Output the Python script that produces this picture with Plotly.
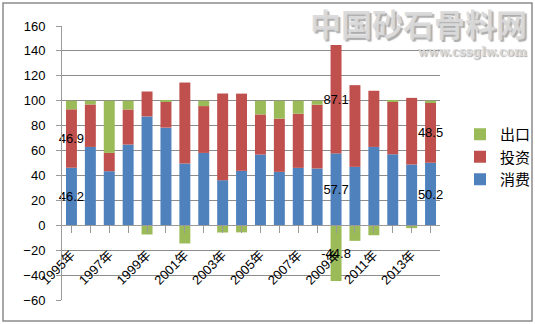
import plotly.graph_objects as go

# Contribution of the three demand components to GDP growth (%)
years = [f"{y}年" for y in range(1995, 2015)]
consumption = [46.2, 62.9, 43.4, 64.8, 87.4, 78.4, 49.6, 58.1, 36.2, 43.7,
               56.8, 42.9, 46.1, 45.6, 57.7, 46.9, 62.9, 57.0, 48.8, 50.2]
investment = [46.9, 34.1, 14.7, 28.2, 20.0, 21.1, 65.0, 37.6, 69.6, 62.0,
              32.2, 42.7, 43.5, 51.2, 87.1, 65.6, 45.1, 42.0, 53.5, 48.5]
net_export = [6.9, 3.0, 41.9, 7.0, -7.4, 0.5, -14.6, 4.3, -5.8, -5.7,
              11.0, 14.4, 10.4, 3.2, -44.8, -12.5, -8.0, 1.0, -2.3, 1.3]

# years whose values are printed on each series
labelled = {
    "消费": {"1995年", "2009年", "2014年"},
    "投资": {"1995年", "2009年", "2014年"},
    "出口": {"2009年"},
}
tick_labels = [y if i % 2 == 0 else "" for i, y in enumerate(years)]

BLUE, RED, GREEN = "#4F81BD", "#C0504D", "#9BBB59"
FONT = "Liberation Sans, Arial, Noto Sans CJK SC"


def bar_text(name, vals):
    return [f"{v:.1f}" if y in labelled[name] else "" for y, v in zip(years, vals)]


fig = go.Figure()
for name, vals, color in [("消费", consumption, BLUE),
                          ("投资", investment, RED),
                          ("出口", net_export, GREEN)]:
    fig.add_trace(go.Bar(
        x=years, y=vals, name=name, legendgroup=name,
        marker=dict(color=color, line=dict(width=0)),
        text=bar_text(name, vals), textposition="inside",
        insidetextanchor="middle", textangle=0,
        textfont=dict(color="black", size=13, family=FONT),
        constraintext="none", cliponaxis=False,
    ))

W, H = 535, 324
ML, MR, MT, MB = 62, 95, 26, 24
PW, PH = W - ML - MR, H - MT - MB


def px_x(px):
    return (px - ML) / PW


def px_y(py):
    return (H - MB - py) / PH


fig.update_layout(
    width=W, height=H,
    margin=dict(l=ML, r=MR, t=MT, b=MB, autoexpand=False),
    barmode="relative", bargap=0.42,
    plot_bgcolor="white", paper_bgcolor="white",
    font=dict(family=FONT, color="black"),
    legend=dict(
        x=px_x(460), y=px_y(118), xanchor="left", yanchor="top",
        traceorder="reversed", tracegroupgap=13,
        font=dict(size=15, family="Noto Sans CJK SC"),
        itemwidth=30, bgcolor="rgba(0,0,0,0)",
    ),
    xaxis=dict(
        type="category", categoryorder="array", categoryarray=years,
        tickvals=years, ticktext=tick_labels,
        anchor="free", position=60 / 220,
        showline=True, linecolor="#9a9a9a", linewidth=1,
        ticks="outside", ticklen=7, tickcolor="#9a9a9a",
        tickangle=-45, tickfont=dict(size=13, family=FONT),
        ticklabelstandoff=9,
        showgrid=False, range=[-0.5, 19.5],
    ),
    yaxis=dict(
        range=[-60, 160], dtick=20,
        showgrid=True, gridcolor="#8c8c8c", gridwidth=1,
        zeroline=True, zerolinecolor="#8c8c8c", zerolinewidth=1,
        showline=True, linecolor="#9a9a9a", linewidth=1,
        ticks="outside", ticklen=5, tickcolor="#9a9a9a",
        tickfont=dict(size=13, family=FONT),
        ticklabelstandoff=8,
    ),
)

# chart frame
fig.add_shape(type="rect", xref="paper", yref="paper",
              x0=px_x(3), x1=px_x(532), y0=px_y(321), y1=px_y(3),
              line=dict(color="#8c8c8c", width=1.5), layer="below")

# site watermark
fig.add_annotation(text="<b>中国砂石骨料网</b>", xref="paper", yref="paper",
                   x=px_x(418), y=px_y(22), showarrow=False,
                   xanchor="center", yanchor="middle",
                   font=dict(size=31, family="Noto Sans CJK SC",
                             color="rgba(218,218,218,0.95)",
                             shadow="2px 2px 1px rgba(110,110,110,0.6)"))
fig.add_annotation(text="<b>www.cssglw.com</b>", xref="paper", yref="paper",
                   x=px_x(472), y=px_y(52), showarrow=False,
                   xanchor="center", yanchor="middle",
                   font=dict(size=12, family="DejaVu Serif",
                             color="rgba(218,218,218,0.95)",
                             shadow="1px 1px 1px rgba(110,110,110,0.6)"))

fig.write_html("out.html")
